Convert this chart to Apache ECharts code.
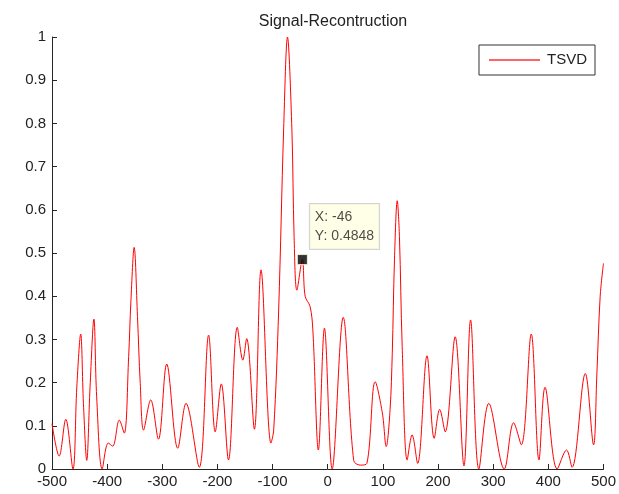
<!DOCTYPE html>
<html>
<head>
<meta charset="utf-8">
<script src="https://cdn.jsdelivr.net/npm/echarts@6/dist/echarts.min.js"></script>
<style>html,body{margin:0;padding:0;background:#fff;}#c{width:619px;height:494px;}</style>
</head>
<body>
<div id="c"></div>
<script>
const titleText = 'Signal-Recontruction';
const seriesName = 'TSVD';
const xTicks = [-500, -400, -300, -200, -100, 0, 100, 200, 300, 400, 500];
const xs = [-500, -487, -475, -462, -455, -448, -443, -437, -431, -424, -419, -409, -398, -390, -378, -369, -361, -357, -351, -345, -340, -334, -321, -307, -292, -272, -257, -233, -216, -204, -193, -180, -164, -154, -147, -133, -121, -103, -98, -89, -80, -73, -65, -61, -56, -46, -41, -32, -27, -17, -6, 8, 28, 47, 59, 71, 86, 99, 106, 113, 117, 121, 126, 130, 135, 144, 153, 163, 180, 193, 203, 213, 231, 247, 259, 274, 292, 320, 337, 351, 369, 383, 394, 416, 433, 443, 467, 482, 488, 494, 500];
const ys = [0.105, 0.030, 0.115, 0.0, 0.19, 0.3125, 0.152, 0.02, 0.19, 0.347, 0.167, 0.0, 0.06, 0.053, 0.113, 0.083, 0.26, 0.387, 0.513, 0.353, 0.198, 0.09, 0.16, 0.069, 0.243, 0.048, 0.152, 0.004, 0.31, 0.086, 0.197, 0.021, 0.328, 0.252, 0.302, 0.092, 0.461, 0.06, 0.09, 0.368, 0.785, 1.0, 0.785, 0.538, 0.414, 0.4848, 0.40, 0.376, 0.322, 0.044, 0.326, 0.0, 0.351, 0.02, 0.009, 0.013, 0.202, 0.13, 0.052, 0.137, 0.268, 0.484, 0.621, 0.538, 0.283, 0.021, 0.079, 0.013, 0.262, 0.071, 0.138, 0.086, 0.306, 0.007, 0.345, 0.0, 0.152, 0.0, 0.107, 0.056, 0.3125, 0.021, 0.189, 0.0, 0.044, 0.004, 0.221, 0.056, 0.22, 0.40, 0.476];
const tipX = -46;
const tipY = 0.4848;

const chart = echarts.init(document.getElementById('c'), null, {renderer: 'canvas'});
const font = 'Liberation Sans, Arial, sans-serif';
const axisCol = '#262626';
chart.setOption({
  animation: false,
  backgroundColor: '#fff',
  title: {text: titleText, left: 328, top: 9, textAlign: 'center',
    textStyle: {fontFamily: font, fontSize: 16, fontWeight: 'normal', color: '#222'}},
  legend: {
    data: [{name: seriesName, icon: 'rect'}],
    right: 24, top: 45, orient: 'vertical',
    borderColor: '#333', borderWidth: 1, padding: [6, 8, 6, 10],
    itemWidth: 51, itemHeight: 1.5, itemGap: 6,
    textStyle: {fontFamily: font, fontSize: 15, color: '#222', lineHeight: 18, padding: [0, 0, 0, 2]}
  },
  grid: {left: 52, right: 15, top: 37, bottom: 25, containLabel: false},
  xAxis: {
    type: 'value', min: -500, max: 500, interval: 100,
    axisLine: {onZero: false, lineStyle: {color: axisCol}},
    axisTick: {inside: true, length: 5, lineStyle: {color: axisCol}},
    axisLabel: {fontFamily: font, fontSize: 15, color: '#222', margin: 5,
      formatter: v => xTicks.includes(v) ? String(v) : ''},
    splitLine: {show: false}
  },
  yAxis: {
    type: 'value', min: 0, max: 1, interval: 0.1,
    axisLine: {show: true, onZero: false, lineStyle: {color: axisCol}},
    axisTick: {show: true, inside: true, length: 5, lineStyle: {color: axisCol}},
    axisLabel: {fontFamily: font, fontSize: 15, color: '#222', margin: 6,
      formatter: v => String(Math.round(v * 10) / 10)},
    splitLine: {show: false}
  },
  series: [
    {
      name: seriesName, type: 'line', smooth: 0.35, symbol: 'none',
      lineStyle: {color: '#ff0000', width: 1}, itemStyle: {color: '#ff3030'},
      data: xs.map((x, i) => [x, ys[i]]), z: 2
    },
    {
      name: 'tip', type: 'scatter', symbol: 'rect', symbolSize: 10,
      itemStyle: {color: '#000', borderColor: '#ffffe1', borderWidth: 1},
      data: [[tipX, tipY]], z: 5,
      label: {
        show: true, position: [13, -50],
        formatter: 'X: ' + tipX + '\nY: ' + tipY,
        fontFamily: font, fontSize: 14, color: '#222', lineHeight: 19,
        backgroundColor: '#ffffe1', borderColor: '#c8c8c8', borderWidth: 1,
        padding: [4, 5, 3, 5]
      }
    }
  ]
});
</script>
</body>
</html>
